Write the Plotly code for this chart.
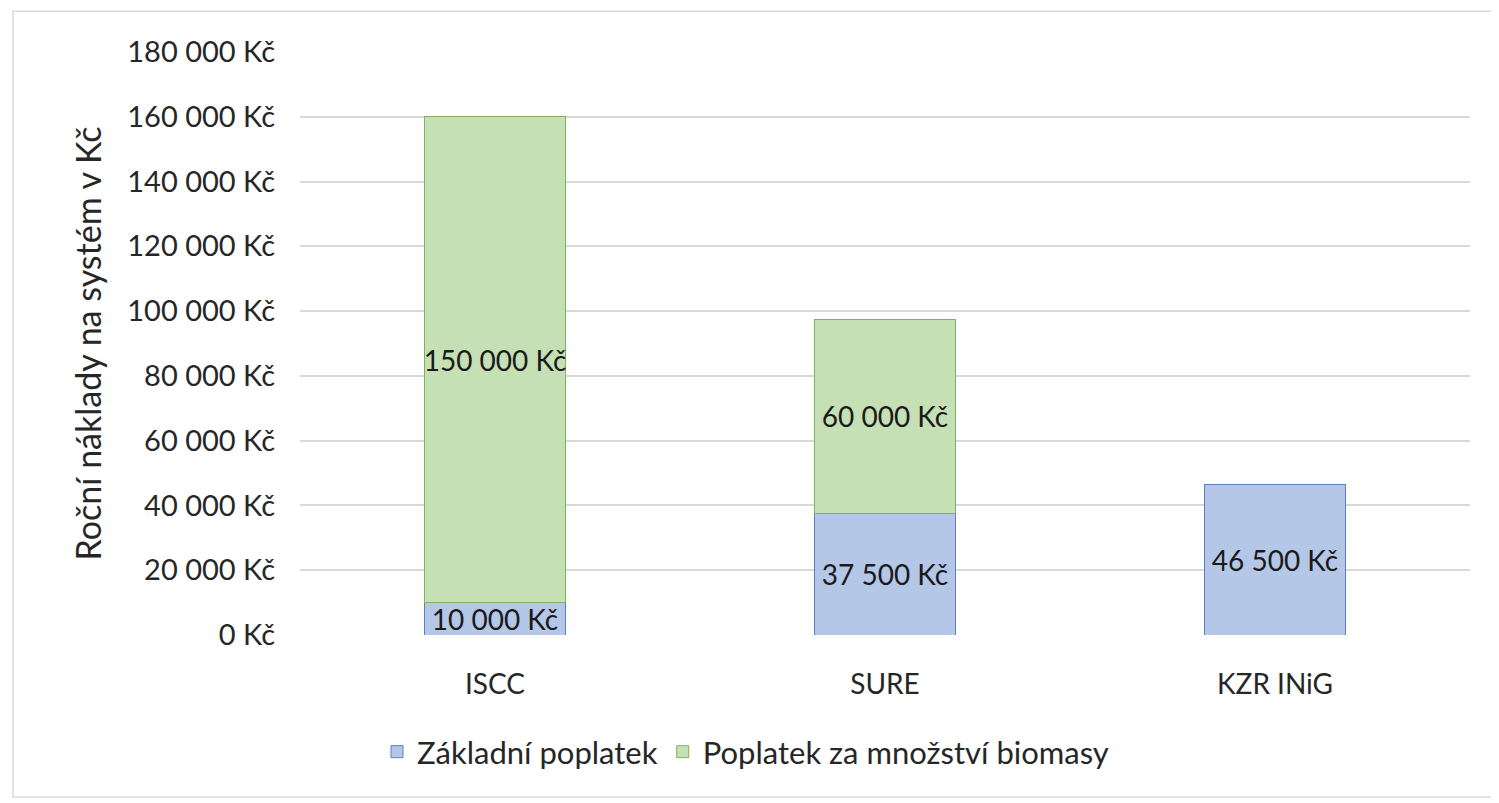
import plotly.graph_objects as go

categories = ["ISCC", "SURE", "KZR INiG"]
zakladni = [10000, 37500, 46500]
biomasa = [150000, 60000, None]
tick_vals = [0, 20000, 40000, 60000, 80000, 100000, 120000, 140000, 160000, 180000]
tick_text = ["0 Kč", "20 000 Kč", "40 000 Kč", "60 000 Kč", "80 000 Kč",
             "100 000 Kč", "120 000 Kč", "140 000 Kč", "160 000 Kč", "180 000 Kč"]

FONT = "Lato"
TXT = "#262626"
fig = go.Figure()
fig.add_trace(go.Bar(
    x=categories, y=zakladni, name="Základní poplatek",
    marker=dict(color="#B4C7E7", line=dict(color="#5B7FC0", width=1)),
    texttemplate="%{y:,d} Kč", textposition="inside", insidetextanchor="middle",
    constraintext="none", textangle=0,
    textfont=dict(family=FONT, size=28, color="#1a1a1a"),
))
fig.add_trace(go.Bar(
    x=categories, y=biomasa, name="Poplatek za množství biomasy",
    marker=dict(color="#C5E0B4", line=dict(color="#7FB35A", width=1)),
    texttemplate="%{y:,d} Kč", textposition="inside", insidetextanchor="middle",
    constraintext="none", textangle=0,
    textfont=dict(family=FONT, size=28, color="#1a1a1a"),
))

fig.update_layout(
    barmode="stack",
    bargap=0.64,
    separators=", ",
    width=1491, height=795,
    margin=dict(l=292, r=29, t=44, b=168),
    paper_bgcolor="white", plot_bgcolor="white",
    font=dict(family=FONT, size=26, color=TXT),
    showlegend=True,
    legend=dict(orientation="h", x=0.0658, xanchor="left", y=-0.2007, yanchor="middle",
                font=dict(family=FONT, size=31, color=TXT),
                itemwidth=30, traceorder="normal"),
    xaxis=dict(showgrid=False, showline=False, ticks="", ticklabelstandoff=30,
               tickfont=dict(family=FONT, size=28, color=TXT)),
    yaxis=dict(range=[0, 180000], tickvals=tick_vals, ticktext=tick_text,
               showgrid=True, gridcolor="#D9D9D9", gridwidth=1.5, zeroline=False,
               showline=False, ticks="", ticklabelstandoff=24,
               tickfont=dict(family=FONT, size=29, color=TXT),
               title=dict(text="Roční náklady na systém v Kč", standoff=15,
                          font=dict(family=FONT, size=34, color=TXT))),
    shapes=[dict(type="rect", xref="paper", yref="paper",
                 x0=-0.2453, x1=1.03, y0=-0.278, y1=1.070,
                 line=dict(color="#D9D9D9", width=1.5), fillcolor="rgba(0,0,0,0)",
                 layer="below")],
)

fig.write_html("out.html")
